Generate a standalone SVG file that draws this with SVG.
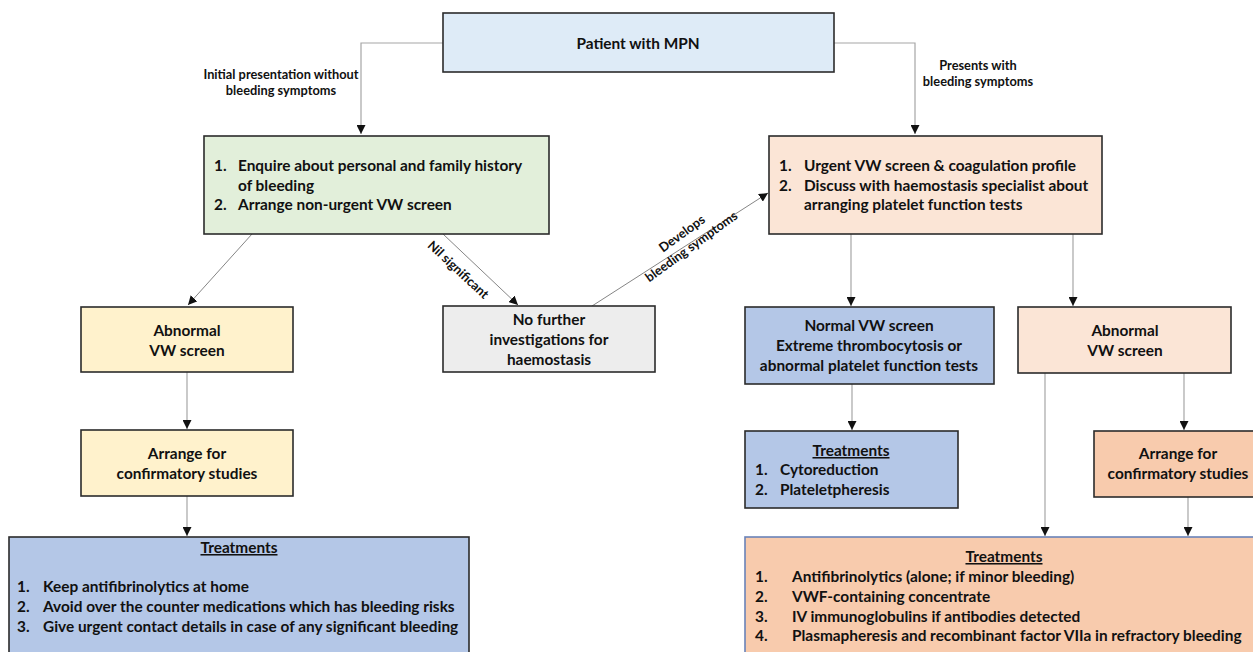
<svg xmlns="http://www.w3.org/2000/svg" width="1253" height="652" viewBox="0 0 1253 652">
<defs>
<style>
.b{stroke:#2b2b2b;stroke-width:1.6}
.t{font-family:Lato,"Open Sans","Liberation Sans",sans-serif;font-weight:bold;font-size:15.4px;fill:#111}
.c{text-anchor:middle}
.l{font-family:Lato,"Open Sans","Liberation Sans",sans-serif;font-weight:bold;font-size:12.8px;fill:#111}
.cn{fill:none;stroke:#a6a6a6;stroke-width:1.2}
.dg{fill:none;stroke:#777;stroke-width:0.9}
</style>
<marker id="ah" viewBox="0 0 10 10" refX="10" refY="5" markerWidth="9" markerHeight="9" markerUnits="userSpaceOnUse" orient="auto">
<path d="M0,0 L10,5 L0,10 z" fill="#111"/>
</marker>
</defs>
<rect width="1253" height="652" fill="#fff"/>

<g id="connectors">
<polyline class="cn" points="443,43 361,43 361,134" marker-end="url(#ah)"/>
<polyline class="cn" points="834,43 915,43 915,134" marker-end="url(#ah)"/>
<line class="dg" x1="252" y1="234" x2="188" y2="305" marker-end="url(#ah)"/>
<line class="dg" x1="443" y1="234" x2="518" y2="305" marker-end="url(#ah)"/>
<line class="dg" x1="592" y1="306" x2="768" y2="193" marker-end="url(#ah)"/>
<line class="cn" x1="187" y1="372" x2="187" y2="429" marker-end="url(#ah)"/>
<line class="cn" x1="187" y1="496" x2="187" y2="536" marker-end="url(#ah)"/>
<line class="cn" x1="851" y1="234" x2="851" y2="306" marker-end="url(#ah)"/>
<line class="cn" x1="1073" y1="234" x2="1073" y2="306" marker-end="url(#ah)"/>
<line class="cn" x1="852" y1="384" x2="852" y2="430" marker-end="url(#ah)"/>
<line class="cn" x1="1045" y1="373" x2="1045" y2="536" marker-end="url(#ah)"/>
<line class="cn" x1="1184" y1="373" x2="1184" y2="430" marker-end="url(#ah)"/>
<line class="cn" x1="1188" y1="497" x2="1188" y2="536" marker-end="url(#ah)"/>
<text class="l c" x="281" y="79">Initial presentation without</text>
<text class="l c" x="281" y="95">bleeding symptoms</text>
<text class="l c" x="978" y="70">Presents with</text>
<text class="l c" x="978" y="86">bleeding symptoms</text>
<text class="l c" x="458" y="274" transform="rotate(43 458 270)">Nil significant</text>
<g transform="rotate(-36 688 242)">
<text class="l c" x="688" y="236">Develops</text>
<text class="l c" x="688" y="252">bleeding symptoms</text>
</g>
</g>

<g id="patient">
<rect class="b" x="443" y="13" width="391" height="59" fill="#deebf7"/>
<text class="t c" x="638" y="49">Patient with MPN</text>
</g>

<g id="initial">
<rect class="b" x="204" y="136" width="345" height="98" fill="#e2efda"/>
<text class="t" x="214" y="171">1.</text><text class="t" x="238" y="171">Enquire about personal and family history</text>
<text class="t" x="238" y="191">of bleeding</text>
<text class="t" x="214" y="210">2.</text><text class="t" x="238" y="210">Arrange non-urgent VW screen</text>
</g>

<g id="urgent">
<rect class="b" x="769" y="136" width="333" height="98" fill="#fbe5d6"/>
<text class="t" x="779" y="171">1.</text><text class="t" x="804" y="171">Urgent VW screen &amp; coagulation profile</text>
<text class="t" x="779" y="191">2.</text><text class="t" x="804" y="191">Discuss with haemostasis specialist about</text>
<text class="t" x="804" y="210">arranging platelet function tests</text>
</g>

<g id="abnormal-left">
<rect class="b" x="81" y="307" width="212" height="65" fill="#fff2cc"/>
<text class="t c" x="187" y="336">Abnormal</text>
<text class="t c" x="187" y="356">VW screen</text>
</g>

<g id="confirm-left">
<rect class="b" x="81" y="430" width="212" height="66" fill="#fff2cc"/>
<text class="t c" x="187" y="459">Arrange for</text>
<text class="t c" x="187" y="479">confirmatory studies</text>
</g>

<g id="treat-left">
<rect class="b" x="9" y="537" width="460" height="120" fill="#b4c7e7"/>
<text class="t c" x="239" y="553" text-decoration="underline">Treatments</text>
<text class="t" x="17" y="592">1.</text><text class="t" x="43" y="592">Keep antifibrinolytics at home</text>
<text class="t" x="17" y="612">2.</text><text class="t" x="43" y="612">Avoid over the counter medications which has bleeding risks</text>
<text class="t" x="17" y="632">3.</text><text class="t" x="43" y="632">Give urgent contact details in case of any significant bleeding</text>
</g>

<g id="nofurther">
<rect class="b" x="443" y="306" width="212" height="66" fill="#ededed"/>
<text class="t c" x="549" y="325">No further</text>
<text class="t c" x="549" y="345">investigations for</text>
<text class="t c" x="549" y="365">haemostasis</text>
</g>

<g id="normal-vw">
<rect class="b" x="745" y="307" width="249" height="77" fill="#b4c7e7"/>
<text class="t c" x="869" y="331">Normal VW screen</text>
<text class="t c" x="869" y="351">Extreme thrombocytosis or</text>
<text class="t c" x="869" y="371">abnormal platelet function tests</text>
</g>

<g id="treat-mid">
<rect class="b" x="745" y="431" width="213" height="77" fill="#b4c7e7"/>
<text class="t c" x="851" y="456" text-decoration="underline">Treatments</text>
<text class="t" x="755" y="475">1.</text><text class="t" x="780" y="475">Cytoreduction</text>
<text class="t" x="755" y="495">2.</text><text class="t" x="780" y="495">Plateletpheresis</text>
</g>

<g id="abnormal-right">
<rect class="b" x="1018" y="307" width="213" height="66" fill="#fbe5d6"/>
<text class="t c" x="1125" y="336">Abnormal</text>
<text class="t c" x="1125" y="356">VW screen</text>
</g>

<g id="confirm-right">
<rect class="b" x="1094" y="431" width="165" height="66" fill="#f8cbad"/>
<text class="t c" x="1178" y="459">Arrange for</text>
<text class="t c" x="1178" y="479">confirmatory studies</text>
</g>

<g id="treat-right">
<rect x="745" y="537" width="515" height="120" fill="#f8cbad" stroke="#6a83b8" stroke-width="1.6"/>
<text class="t c" x="1004" y="562" text-decoration="underline">Treatments</text>
<text class="t" x="755" y="582">1.</text><text class="t" x="792" y="582">Antifibrinolytics (alone; if minor bleeding)</text>
<text class="t" x="755" y="602">2.</text><text class="t" x="792" y="602">VWF-containing concentrate</text>
<text class="t" x="755" y="622">3.</text><text class="t" x="792" y="622">IV immunoglobulins if antibodies detected</text>
<text class="t" x="755" y="641">4.</text><text class="t" x="792" y="641">Plasmapheresis and recombinant factor VIIa in refractory bleeding</text>
</g>
</svg>
